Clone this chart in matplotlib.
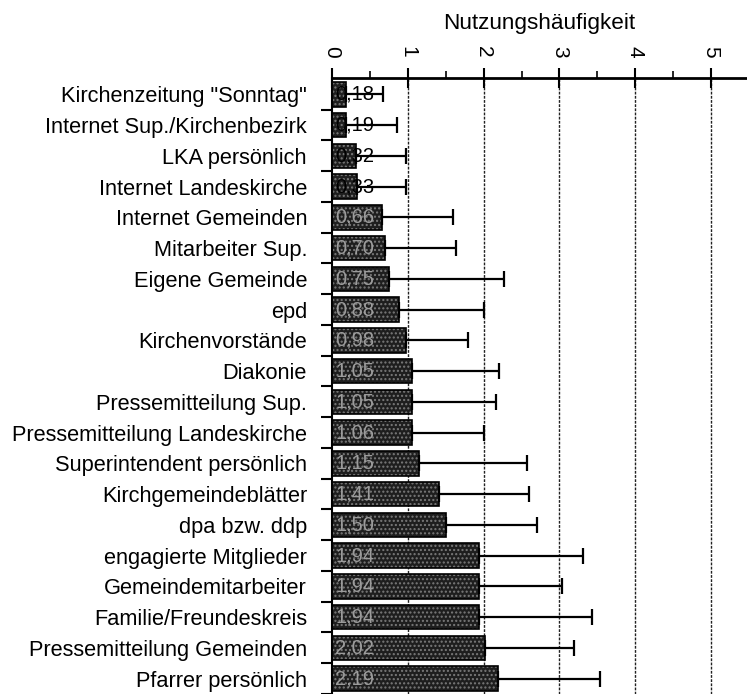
import numpy as np
import matplotlib
matplotlib.use('Agg')
import matplotlib.pyplot as plt

plt.rcParams['font.family'] = ['Liberation Sans', 'DejaVu Sans']

quellen = ['Kirchenzeitung "Sonntag"', 'Internet Sup./Kirchenbezirk', 'LKA persönlich',
           'Internet Landeskirche', 'Internet Gemeinden', 'Mitarbeiter Sup.',
           'Eigene Gemeinde', 'epd', 'Kirchenvorstände', 'Diakonie',
           'Pressemitteilung Sup.', 'Pressemitteilung Landeskirche',
           'Superintendent persönlich', 'Kirchgemeindeblätter', 'dpa bzw. ddp',
           'engagierte Mitglieder', 'Gemeindemitarbeiter', 'Familie/Freundeskreis',
           'Pressemitteilung Gemeinden', 'Pfarrer persönlich']
mittel = [0.18, 0.19, 0.32, 0.33, 0.66, 0.70, 0.75, 0.88, 0.98, 1.05,
          1.05, 1.06, 1.15, 1.41, 1.50, 1.94, 1.94, 1.94, 2.02, 2.19]
obere_grenze = [0.67, 0.86, 0.98, 0.98, 1.60, 1.64, 2.27, 2.00, 1.79, 2.20,
                2.16, 2.00, 2.57, 2.60, 2.71, 3.31, 3.03, 3.43, 3.19, 3.54]
xticks = [0, 1, 2, 3, 4, 5]

y = np.arange(len(quellen))
fehler = np.array(obere_grenze) - np.array(mittel)

fig = plt.figure(figsize=(7.47, 6.94), dpi=100)
ax = fig.add_axes([332 / 747, 0.0, 1 - 332 / 747, 1 - 78 / 694])

# gitterlinien
for v in xticks[1:]:
    ax.axvline(v, color='#222222', linewidth=1.0, linestyle=(0, (2, 1)), zorder=1)

ax.barh(y, mittel, height=0.8, color='#1e1e1e', edgecolor='#7a7a7a',
        hatch='....', linewidth=0, zorder=2)
ax.barh(y, mittel, height=0.8, color='none', edgecolor='black', linewidth=1.2, zorder=3)
ax.errorbar(mittel, y, xerr=[np.zeros(len(y)), fehler], fmt='none', ecolor='black',
            elinewidth=1.6, capsize=6, capthick=1.6, zorder=4)

for i, v in enumerate(mittel):
    txt = ('%.2f' % v).replace('.', ',')
    col = 'black' if v < 0.5 else '#9c9c9c'
    ax.text(0.04, i, txt, va='center', ha='left', fontsize=14.5, color=col, zorder=5)

ax.set_xlim(0, (747 - 332) / 75.8)
ax.set_ylim((694 - 94.5) / 31.0, (78 - 94.5) / 31.0)

ax.xaxis.tick_top()
ax.set_xticks(xticks)
ax.set_xticklabels([str(t) for t in xticks], rotation=270, fontsize=15)
ax.set_xticks(np.arange(0.5, 5.5, 1), minor=True)
ax.tick_params(axis='x', which='major', direction='inout', length=15, width=1.5, pad=7)
ax.tick_params(axis='x', which='minor', direction='out', length=5, width=1.2)

ax.set_yticks(y + 0.5)
ax.set_yticklabels([])
ax.set_yticks(y, minor=True)
ax.set_yticklabels(quellen, minor=True, fontsize=15.7)
ax.tick_params(axis='y', which='major', direction='out', length=8, width=1.5)
ax.tick_params(axis='y', which='minor', length=0, pad=18)

for s in ['right', 'bottom']:
    ax.spines[s].set_visible(False)
ax.spines['top'].set_linewidth(2)
ax.spines['left'].set_linewidth(1.5)

fig.text(539 / 747, 1 - 23 / 694, 'Nutzungshäufigkeit', ha='center', va='center', fontsize=16.2)

fig.savefig('out.png', dpi=100)
